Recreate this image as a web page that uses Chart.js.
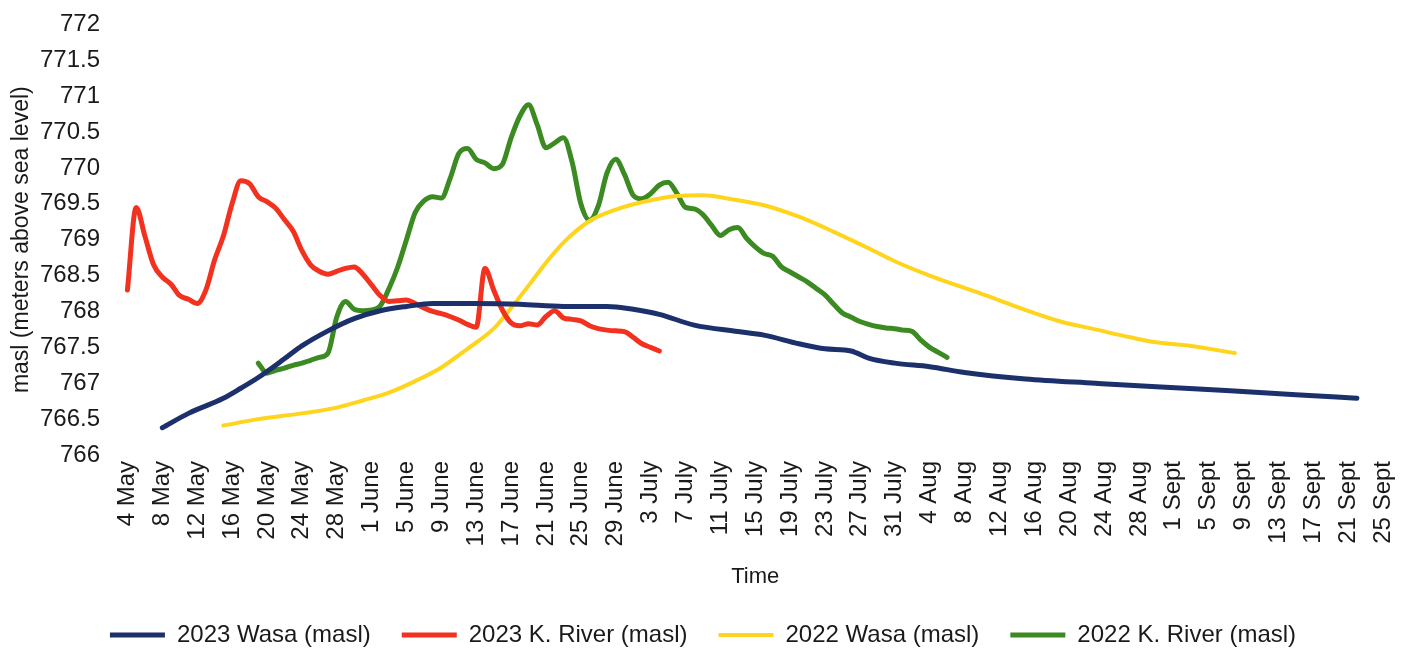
<!DOCTYPE html>
<html lang="en">
<head>
<meta charset="UTF-8">
<title>Wasa and K. River water levels</title>
<script src="https://cdn.jsdelivr.net/npm/chart.js"></script>
<style>
    body { margin: 0; background: #fff; }
    .chart-container { position: relative; width: 1418px; height: 660px; }
</style>
</head>
<body>
<div class="chart-container"><canvas id="levelChart"></canvas></div>
<script>
// x values are days counted from 4 May
const tickLabels = ['4 May', '8 May', '12 May', '16 May', '20 May', '24 May', '28 May',
    '1 June', '5 June', '9 June', '13 June', '17 June', '21 June', '25 June', '29 June',
    '3 July', '7 July', '11 July', '15 July', '19 July', '23 July', '27 July', '31 July',
    '4 Aug', '8 Aug', '12 Aug', '16 Aug', '20 Aug', '24 Aug', '28 Aug',
    '1 Sept', '5 Sept', '9 Sept', '13 Sept', '17 Sept', '21 Sept', '25 Sept'];
const tickStep = 4;

const wasa2023Days = [4, 7, 11, 13, 15, 18, 20, 23, 26, 29, 32, 35, 40, 45, 50, 55, 58, 61,
    65, 70, 73, 77, 80, 83, 85, 88, 92, 96, 103, 111, 118, 126, 134, 141];
const wasa2023 = [766.38, 766.58, 766.79, 766.93, 767.08, 767.34, 767.52, 767.73, 767.90,
    768.01, 768.07, 768.11, 768.11, 768.10, 768.07, 768.07, 768.03, 767.96, 767.81, 767.72,
    767.67, 767.55, 767.48, 767.45, 767.35, 767.28, 767.23, 767.15, 767.06, 767.00, 766.95,
    766.90, 766.84, 766.79];

// daily readings from 4 May
const river2023Start = 0;
const river2023 = [768.30, 769.45, 769.05, 768.65, 768.48, 768.38, 768.22, 768.17, 768.11, 768.30,
    768.72, 769.05, 769.50, 769.82, 769.78, 769.60, 769.53, 769.44, 769.28, 769.12,
    768.85, 768.65, 768.56, 768.52, 768.56, 768.60, 768.62, 768.52, 768.37, 768.22,
    768.14, 768.15, 768.16, 768.11, 768.05, 768.00, 767.97, 767.93, 767.88, 767.82,
    767.78, 768.60, 768.30, 768.02, 767.84, 767.80, 767.83, 767.81, 767.93, 768.01,
    767.91, 767.89, 767.87, 767.80, 767.76, 767.74, 767.73, 767.72, 767.64, 767.55,
    767.50, 767.45];

const wasa2022Days = [11, 15, 20, 24, 27, 30, 33, 36, 39, 42, 44, 46, 48, 50, 53, 56, 60, 63,
    66, 69, 73, 77, 81, 85, 88, 92, 95, 99, 103, 107, 111, 115, 118, 122, 127];
const wasa2022 = [766.41, 766.50, 766.58, 766.66, 766.76, 766.87, 767.03, 767.22, 767.48,
    767.76, 768.05, 768.36, 768.68, 768.96, 769.26, 769.42, 769.55, 769.61, 769.62, 769.57,
    769.48, 769.32, 769.11, 768.88, 768.70, 768.50, 768.37, 768.20, 768.02, 767.86, 767.75,
    767.64, 767.57, 767.52, 767.42];

// daily readings from 19 May
const river2022Start = 15;
const river2022 = [767.28, 767.14, 767.18, 767.21, 767.25, 767.28, 767.32, 767.36, 767.42, 767.92,
    768.14, 768.03, 768.01, 768.02, 768.08, 768.32, 768.62, 769.00, 769.38, 769.54,
    769.60, 769.58, 769.85, 770.20, 770.27, 770.12, 770.07, 769.99, 770.05, 770.42,
    770.72, 770.88, 770.60, 770.28, 770.35, 770.42, 770.08, 769.50, 769.27, 769.47,
    769.93, 770.12, 769.91, 769.62, 769.57, 769.64, 769.76, 769.80, 769.65, 769.45,
    769.43, 769.35, 769.20, 769.06, 769.14, 769.17, 769.02, 768.90, 768.81, 768.77,
    768.62, 768.55, 768.48, 768.41, 768.32, 768.23, 768.10, 767.98, 767.92, 767.86,
    767.82, 767.79, 767.77, 767.76, 767.74, 767.72, 767.60, 767.50, 767.43, 767.36];

function points(days, values) {
    return values.map((v, i) => ({ x: days[i], y: v }));
}
function dailyPoints(start, values) {
    return values.map((v, i) => ({ x: start + i, y: v }));
}

function line(label, data, color, width) {
    return {
        label: label,
        data: data,
        borderColor: color,
        backgroundColor: color,
        borderWidth: width,
        borderCapStyle: 'round',
        borderJoinStyle: 'round',
        pointRadius: 0,
        cubicInterpolationMode: 'monotone',
        fill: false
    };
}

Chart.defaults.font.family = "'Liberation Sans', Arial, sans-serif";
Chart.defaults.color = '#1a1a1a';

// keep the legend band short so the axis title sits where it should
const legendBand = {
    id: 'legendBand',
    beforeInit(chart) {
        const fit = chart.legend.fit;
        chart.legend.fit = function () {
            fit.call(this);
            this.height = 68;
        };
    }
};

const ctx = document.getElementById('levelChart').getContext('2d');
new Chart(ctx, {
    type: 'line',
    data: {
        datasets: [
            line('2023 Wasa (masl)', points(wasa2023Days, wasa2023), '#1c306c', 5),
            line('2023 K. River (masl)', dailyPoints(river2023Start, river2023), '#f2311f', 5),
            line('2022 Wasa (masl)', points(wasa2022Days, wasa2022), '#fed41c', 4),
            line('2022 K. River (masl)', dailyPoints(river2022Start, river2022), '#3c8a22', 5)
        ]
    },
    options: {
        responsive: true,
        maintainAspectRatio: false,
        animation: false,
        layout: { padding: { top: 10, right: 12, left: 0, bottom: 0 } },
        plugins: {
            legend: {
                position: 'bottom',
                labels: {
                    font: { size: 24 },
                    usePointStyle: true,
                    pointStyle: 'line',
                    pointStyleWidth: 55,
                    boxHeight: 5,
                    padding: 31
                }
            },
            tooltip: { enabled: false }
        },
        scales: {
            x: {
                type: 'linear',
                min: -2,
                max: 146,
                grid: { display: false, drawTicks: false },
                border: { display: false },
                afterBuildTicks: (axis) => {
                    axis.ticks = tickLabels.map((_, i) => ({ value: i * tickStep }));
                },
                afterFit: (axis) => { axis.height = 137; },
                ticks: {
                    autoSkip: false,
                    maxRotation: 90,
                    minRotation: 90,
                    padding: 6,
                    font: { size: 24 },
                    callback: (value, index) => tickLabels[index]
                },
                title: {
                    display: true,
                    text: 'Time',
                    font: { size: 22 },
                    padding: { top: 0, bottom: 2 }
                }
            },
            y: {
                min: 766,
                max: 772,
                grid: { display: false, drawTicks: false },
                border: { display: false },
                afterFit: (axis) => { axis.width = 110; },
                ticks: {
                    stepSize: 0.5,
                    padding: 10,
                    font: { size: 24 },
                    callback: (value) => String(value)
                },
                title: {
                    display: true,
                    text: 'masl (meters above sea level)',
                    font: { size: 23 },
                    padding: { top: 8, bottom: 0 }
                }
            }
        }
    },
    plugins: [legendBand]
});
</script>
</body>
</html>
